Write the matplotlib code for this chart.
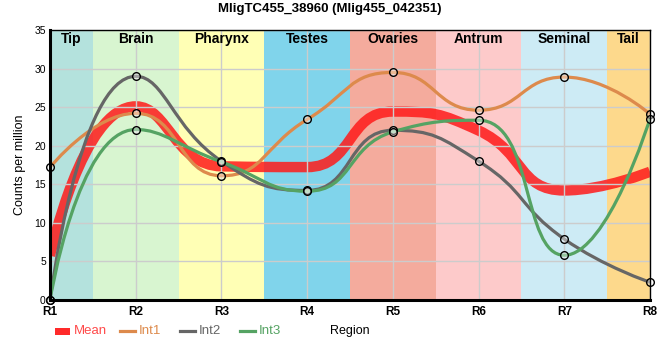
import numpy as np
import matplotlib
matplotlib.use('Agg')
import matplotlib.pyplot as plt
from matplotlib.lines import Line2D
from matplotlib.patches import Rectangle, PathPatch
from matplotlib.path import Path

plt.rcParams['font.family'] = ['Liberation Sans', 'DejaVu Sans']

# data
regions = ['R1', 'R2', 'R3', 'R4', 'R5', 'R6', 'R7', 'R8']
mean = [5.73, 25.1, 17.33, 17.23, 24.43, 21.97, 14.2, 16.63]
int1 = [17.2, 24.2, 16.1, 23.4, 29.5, 24.6, 28.9, 24.1]
int2 = [0.0, 29.0, 18.0, 14.2, 22.0, 18.0, 7.9, 2.3]
int3 = [0.0, 22.1, 17.9, 14.1, 21.8, 23.3, 5.8, 23.5]

tissues = ['Tip', 'Brain', 'Pharynx', 'Testes', 'Ovaries', 'Antrum', 'Seminal', 'Tail']
tissue_colors = ['#b4e2dd', '#d8f5d0', '#ffffb5', '#80d4eb',
                 '#f4ab9d', '#fdcaca', '#cdebf5', '#fdd98c']


def smooth_path(ax, xs, ys, smooth=0.5):
    # bezier smoothing in pixel space, same idea as echarts' smooth lines
    pts = ax.transData.transform(np.column_stack([xs, ys]))
    px, py = pts[:, 0], pts[:, 1]
    n = len(px)
    verts = [(px[0], py[0])]
    codes = [Path.MOVETO]
    cx0, cy0 = px[0], py[0]
    for i in range(1, n):
        x, y = px[i], py[i]
        x0, y0 = px[i - 1], py[i - 1]
        if i == n - 1:
            cx1, cy1 = x, y
            ncx, ncy = x, y
        else:
            x2, y2 = px[i + 1], py[i + 1]
            vx, vy = x2 - x0, y2 - y0
            lp = np.hypot(x - x0, y - y0)
            ln = np.hypot(x2 - x, y2 - y)
            r = ln / (ln + lp)
            ncx = np.clip(x + vx * smooth * r, min(x2, x), max(x2, x))
            ncy = np.clip(y + vy * smooth * r, min(y2, y), max(y2, y))
            vx, vy = ncx - x, ncy - y
            cx1 = np.clip(x - vx * lp / ln, min(x0, x), max(x0, x))
            cy1 = np.clip(y - vy * lp / ln, min(y0, y), max(y0, y))
            vx, vy = x - cx1, y - cy1
            ncx = x + vx * ln / lp
            ncy = y + vy * ln / lp
        verts += [(cx0, cy0), (cx1, cy1), (x, y)]
        codes += [Path.CURVE4] * 3
        cx0, cy0 = ncx, ncy
    verts = ax.transData.inverted().transform(np.array(verts))
    return Path(verts, codes)


fig = plt.figure(figsize=(6.6, 3.6), dpi=100)
ax = fig.add_axes([50 / 660, 60 / 360, 600 / 660, 270 / 360])

pos = np.arange(len(regions))
ax.set_xlim(0, len(regions) - 1)
ax.set_ylim(0, 35)

for i, (name, c) in enumerate(zip(tissues, tissue_colors)):
    lo = max(i - 0.5, 0)
    hi = min(i + 0.5, len(regions) - 1)
    ax.axvspan(lo, hi, color=c, zorder=0, lw=0)
    ax.text((lo + hi) / 2, 33.8, name, ha='center', va='center',
            fontsize=10, fontweight='bold', zorder=5)

ax.set_xticks(pos)
ax.set_xticklabels(regions, fontweight='bold', fontsize=8.5)
ax.set_yticks(range(0, 36, 5))
ax.tick_params(axis='y', labelsize=7.5, length=0, pad=3)
ax.tick_params(axis='x', length=0, pad=4)
ax.grid(True, color='#cccccc', lw=1, zorder=0.5)
ax.set_axisbelow(False)
for sp in ['left', 'bottom']:
    ax.spines[sp].set_linewidth(2.2)
for sp in ['top', 'right']:
    ax.spines[sp].set_linewidth(1)
for sp in ax.spines.values():
    sp.set_zorder(6)

ax.add_patch(PathPatch(smooth_path(ax, pos, mean), fill=False, ec='#ff1a1a',
                       lw=7.5, alpha=0.85, capstyle='butt', zorder=2))

series = [(int1, '#dd8a4c'), (int2, '#666666'), (int3, '#55a363')]
for vals, c in series:
    ax.add_patch(PathPatch(smooth_path(ax, pos, vals), fill=False, ec=c,
                           lw=2.3, zorder=3, clip_on=False))
for vals, c in series:
    ax.plot(pos, vals, 'o', ms=5.5, mfc=(1, 1, 1, 0.4), mec='black', mew=1,
            zorder=4, clip_on=False)

ax.set_ylabel('Counts per million', fontsize=9, labelpad=6)
fig.suptitle('MligTC455_38960 (Mlig455_042351)', fontsize=9.5,
             fontweight='bold', y=1 - 9 / 360, va='center')

# legend along the bottom
ly = 1 - 331 / 360
fig.add_artist(Rectangle((55 / 660, ly - 3.5 / 360), 15 / 660, 7 / 360,
                         transform=fig.transFigure, color='#ff2a2a', lw=0))
fig.text(74 / 660, ly, 'Mean', color='#ff4a4a', fontsize=9.5, va='center')
for (x0, lab), (vals, c) in zip([(120, 'Int1'), (180, 'Int2'), (240, 'Int3')], series):
    fig.add_artist(Line2D([x0 / 660, (x0 + 15) / 660], [ly, ly],
                          transform=fig.transFigure, color=c, lw=2.3))
    fig.text((x0 + 19) / 660, ly, lab, color=c, fontsize=9.5, va='center')
fig.text(330 / 660, ly, 'Region', fontsize=9, va='center')

fig.savefig('out.png', dpi=100)
